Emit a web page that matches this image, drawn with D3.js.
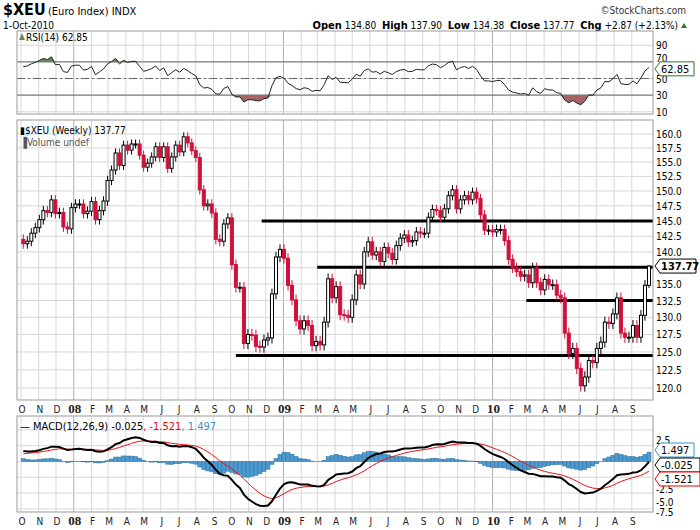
<!DOCTYPE html>
<html>
<head>
<meta charset="utf-8">
<script src="https://cdn.jsdelivr.net/npm/d3@7"></script>
<style>
body { margin: 0; background: #fff; }
text { font-family: "DejaVu Sans Condensed", "DejaVu Sans", sans-serif; }
</style>
</head>
<body>
<script>
const width = 700, height = 530;
const left = 17, right = 653;

// weekly closes, 5-Oct-2007 .. 1-Oct-2010
const closes = [
  141.3, 141.7, 143, 143.9, 145.2, 146.7, 146.4, 148.5, 146.2, 146.4, 144, 143.7, 147.2, 147.8, 147.8,
  146.2, 146.6, 148.2, 145.2, 146.7, 148.3, 151.8, 153.6, 156.6, 154.4, 158, 157.1, 158.2, 158.2, 156.2,
  154.1, 154.8, 155.9, 157.7, 155.8, 157.7, 153.9, 155.9, 158, 156.8, 159.5, 158.4, 157, 155.8, 150.2,
  147.5, 147.8, 146.3, 142, 141.7, 144.5, 145.5, 138, 134.5, 134.5, 126.2, 127.5, 127.4, 125.8, 125.7,
  126.7, 127, 133.5, 139.2, 140.4, 139, 134.8, 132.6, 129.5, 128.3, 129.5, 128.8, 125.9, 126.5, 126,
  129.3, 135.8, 132.9, 134.6,
  130.4, 130.3, 130, 132.6, 136.4, 135, 140, 141.6, 139.5, 140, 138.5, 140.7, 139.8, 138.8, 141, 142.2,
  142.7, 141.6, 141.8, 143.2, 143, 143, 145.6, 146.9, 146.7, 145.6, 147, 149.2, 150.2, 147, 148.5, 149.2,
  148.5, 149.8, 148.7, 146, 143.5, 143.5, 143.2,
  143.6, 143.6, 141.8, 138.8, 137.5, 136.9, 136.2, 136.4, 135.2, 137.5, 135.2, 134.1, 135.7, 134.9, 134.9,
  133.3, 132.9, 127.7, 124.8, 125.5, 122.7, 120.3, 121.5, 123.8, 123.5, 125.5, 126.4, 129.3, 129.1, 130.5,
  132.9, 127.7, 127.1, 127.1, 128.8, 127.1, 130.3, 134.8, 137.77
];
const firstOpen = 142.0;
const priceTicks = [120, 122.5, 125, 127.5, 130, 132.5, 135, 137.5, 140, 142.5, 145, 147.5, 150, 152.5, 155, 157.5, 160];
const rsiTicks = [10, 30, 50, 70, 90];
const macdTicks = [2.5, -2.5, -5, -7.5];
// support / resistance lines: [level, start date]
const levels = [[145, "2008-11-24"], [137.6, "2009-03-01"], [132.5, "2010-03-01"], [124.5, "2008-10-10"]];
const monthNames = "JFMAMJJASOND";

const lastDate = new Date(2010, 9, 1);
const n = closes.length;
const weeks = closes.map((c, i) => {
  const d = d3.timeWeek.offset(lastDate, -(n - 1 - i));
  const o = i === 0 ? firstOpen : closes[i - 1];
  return { date: d, open: o, close: c, high: Math.max(o, c) + 0.8, low: Math.min(o, c) - 0.8, up: c >= o };
});
weeks[n - 1].open = 134.80; weeks[n - 1].high = 137.90; weeks[n - 1].low = 134.38;

// RSI(14), Wilder smoothing
let ag = 0.9, al = 0.5;
const rsi = weeks.map((w, i) => {
  const ch = i === 0 ? 0 : w.close - weeks[i - 1].close;
  ag = (ag * 13 + Math.max(ch, 0)) / 14;
  al = (al * 13 + Math.max(-ch, 0)) / 14;
  return 100 - 100 / (1 + ag / al);
});
// MACD(12,26,9)
let e12 = closes[0], e26 = closes[0] - 1.8, sig = 1.1;
const macd = weeks.map(w => {
  e12 += (w.close - e12) * 2 / 13;
  e26 += (w.close - e26) * 2 / 27;
  const m = e12 - e26;
  sig += (m - sig) * 2 / 10;
  return { m: m, s: sig, h: m - sig };
});

const svg = d3.select("body").append("svg").attr("width", width).attr("height", height);

const x = d3.scaleTime().domain([new Date(2007, 8, 24), new Date(2010, 9, 8)]).range([left, right]);
const months = d3.timeMonth.range(new Date(2007, 9, 1), new Date(2010, 8, 2));

function panel(top, bottom) {
  const g = svg.append("g");
  g.selectAll("line.v").data(months).enter().append("line")
    .attr("x1", d => x(d)).attr("x2", d => x(d)).attr("y1", top).attr("y2", bottom)
    .attr("stroke", d => d.getMonth() === 0 ? "#b0b0b0" : "#d8d8d8");
  return g;
}
function frame(top, bottom) {
  svg.append("rect").attr("x", left).attr("y", top).attr("width", right - left).attr("height", bottom - top)
    .attr("fill", "none").attr("stroke", "#999");
}
function monthLabels(yy) {
  svg.append("g").selectAll("text").data(months).enter().append("text")
    .attr("x", d => x(d) + 1).attr("y", yy).attr("text-anchor", "middle")
    .attr("font-size", d => d.getMonth() === 0 ? 13 : 10)
    .attr("font-weight", d => d.getMonth() === 0 ? "bold" : "normal")
    .style("font-family", d => d.getMonth() === 0 ? "'Liberation Serif', serif" : null)
    .attr("fill", "#222")
    .text(d => d.getMonth() === 0 ? String(d.getFullYear()).slice(2) : monthNames[d.getMonth()]);
}
function valueBox(yy, txt, color, w) {
  svg.append("path").attr("d", `M${right + 2},${yy} l5,-7 h${w} v14 h-${w} z`)
    .attr("fill", "#fff").attr("stroke", color);
  svg.append("text").attr("x", right + 8).attr("y", yy + 4).attr("font-size", 11).attr("fill", "#000").text(txt);
}

// header
svg.append("text").attr("x", 3).attr("y", 15).attr("font-size", 16).attr("font-weight", "bold").text("$XEU");
svg.append("text").attr("x", 48).attr("y", 15).attr("font-size", 11).text("(Euro Index) INDX");
svg.append("text").attr("x", 686).attr("y", 14).attr("text-anchor", "end").attr("font-size", 10).attr("fill", "#333").text("©StockCharts.com");
svg.append("text").attr("x", 3).attr("y", 29).attr("font-size", 10).text("1-Oct-2010");
const hdr = svg.append("text").attr("x", 678).attr("y", 29).attr("text-anchor", "end").attr("font-size", 11);
[["Open", " 134.80  "], ["High", " 137.90  "], ["Low", " 134.38  "], ["Close", " 137.77  "], ["Chg", " +2.87 (+2.13%)"]].forEach(p => {
  hdr.append("tspan").attr("font-weight", "bold").text(p[0]);
  hdr.append("tspan").attr("font-size", 10).style("white-space", "pre").text(p[1]);
});
svg.append("path").attr("d", "M681,28 l3,-5 l3,5 z").attr("fill", "#2a7a2a");

// RSI panel
const rTop = 31, rBot = 114;
const yr = d3.scaleLinear().domain([0, 100]).range([120, 37]);
const gr = panel(rTop, rBot);
gr.selectAll("line.h").data(rsiTicks).enter().append("line")
  .attr("x1", left).attr("x2", right).attr("y1", d => yr(d)).attr("y2", d => yr(d)).attr("stroke", "#d8d8d8");
[70, 30].forEach(v => gr.append("line").attr("x1", left).attr("x2", right).attr("y1", yr(v)).attr("y2", yr(v)).attr("stroke", "#666"));
gr.append("line").attr("x1", left).attr("x2", right).attr("y1", yr(50)).attr("y2", yr(50))
  .attr("stroke", "#666").attr("stroke-dasharray", "8,3,2,3");
gr.append("path").datum(rsi)
  .attr("d", d3.area().x((d, i) => x(weeks[i].date)).y0(yr(70)).y1(d => yr(Math.max(d, 70))))
  .attr("fill", "#5e8c5e");
gr.append("path").datum(rsi)
  .attr("d", d3.area().x((d, i) => x(weeks[i].date)).y0(yr(30)).y1(d => yr(Math.min(d, 30))))
  .attr("fill", "#a86464");
gr.append("path").datum(rsi)
  .attr("d", d3.line().x((d, i) => x(weeks[i].date)).y(d => yr(d)))
  .attr("fill", "none").attr("stroke", "#222");
frame(rTop, rBot);
// 70 sits just above the value box, as in the original
const rsiNudge = { "70": -4 };
svg.append("g").selectAll("text").data(rsiTicks).enter().append("text")
  .attr("x", 656).attr("y", d => yr(d) + 4 + (rsiNudge[String(d)] || 0)).attr("font-size", 10).text(d => d);
svg.append("path").attr("d", "M19,40 l3,-7 l3,7 z").attr("fill", "#5e8c5e");
svg.append("text").attr("x", 26).attr("y", 41).attr("font-size", 10).text("RSI(14) 62.85");
valueBox(yr(62.85) + 1, "62.85", "#2a7a2a", 34);

// price panel
const pTop = 120, pBot = 400;
const y = d3.scaleLog().domain([120, 160]).range([388, 134]);
const gp = panel(pTop, pBot);
gp.selectAll("line.h").data(priceTicks).enter().append("line")
  .attr("x1", left).attr("x2", right).attr("y1", d => y(d)).attr("y2", d => y(d)).attr("stroke", "#d8d8d8");
gp.selectAll("line.lv").data(levels).enter().append("line")
  .attr("x1", d => x(new Date(d[1]))).attr("x2", right).attr("y1", d => y(d[0])).attr("y2", d => y(d[0]))
  .attr("stroke", "#000").attr("stroke-width", 3);
const cw = 3;
const c = gp.selectAll("g.c").data(weeks).enter().append("g");
c.append("line").attr("x1", d => x(d.date)).attr("x2", d => x(d.date))
  .attr("y1", d => y(d.high)).attr("y2", d => y(d.low))
  .attr("stroke", d => d.up ? "#000" : "#d0103a");
c.append("rect").attr("x", d => x(d.date) - cw / 2)
  .attr("y", d => y(Math.max(d.open, d.close)))
  .attr("width", cw).attr("height", d => Math.max(1, Math.abs(y(d.open) - y(d.close))))
  .attr("fill", d => d.up ? "#fff" : "#d0103a").attr("stroke", d => d.up ? "#000" : "#d0103a");
frame(pTop, pBot);
svg.append("g").selectAll("text").data(priceTicks.filter(d => Math.abs(y(d) - y(137.77)) > 8)).enter().append("text")
  .attr("x", 656).attr("y", d => y(d) + 4).attr("font-size", 10).text(d => d.toFixed(1));
svg.append("text").attr("x", 20).attr("y", 134).attr("font-size", 10).text("\u25AE$XEU (Weekly) 137.77");
svg.append("text").attr("x", 20).attr("y", 146).attr("font-size", 10).attr("fill", "#555").text("\u2590Volume undef");
svg.append("path").attr("d", `M${right + 2},${y(137.77)} l5,-7 h36 v14 h-36 z`).attr("fill", "#fff").attr("stroke", "#000");
svg.append("text").attr("x", right + 8).attr("y", y(137.77) + 4).attr("font-size", 11).attr("font-weight", "bold").text("137.77");
monthLabels(413);

// MACD panel
const mTop = 416, mBot = 512;
const ym = d3.scaleLinear().domain([-8, 7.2]).range([mBot, mTop]);
const gm = panel(mTop, mBot);
gm.selectAll("line.h").data([5, 2.5, 0, -2.5, -5, -7.5]).enter().append("line")
  .attr("x1", left).attr("x2", right).attr("y1", d => ym(d)).attr("y2", d => ym(d)).attr("stroke", "#d8d8d8");
gm.selectAll("rect").data(macd).enter().append("rect")
  .attr("x", (d, i) => x(weeks[i].date) - 2).attr("width", 4)
  .attr("y", d => ym(Math.max(0, d.h))).attr("height", d => Math.abs(ym(d.h) - ym(0)))
  .attr("fill", "#4c9ad0").attr("stroke", "#2d6f9e").attr("stroke-width", 0.5);
gm.append("path").datum(macd).attr("d", d3.line().x((d, i) => x(weeks[i].date)).y(d => ym(d.s)))
  .attr("fill", "none").attr("stroke", "#f01010");
gm.append("path").datum(macd).attr("d", d3.line().x((d, i) => x(weeks[i].date)).y(d => ym(d.m)))
  .attr("fill", "none").attr("stroke", "#000").attr("stroke-width", 2);
frame(mTop, mBot);
// tick labels nudged clear of the value boxes, as the original does
const macdNudge = { "2.5": -6, "-2.5": 12, "-5": 9, "-7.5": 3 };
svg.append("g").selectAll("text").data(macdTicks).enter().append("text")
  .attr("x", 656).attr("y", d => ym(d) + 4 + macdNudge[String(d)]).attr("font-size", 10).text(d => d.toFixed(1));
const ml = svg.append("text").attr("x", 20).attr("y", 430).attr("font-size", 11);
ml.append("tspan").text("\u2014 MACD(12,26,9) -0.025");
ml.append("tspan").attr("fill", "#e00").text(", -1.521");
ml.append("tspan").attr("fill", "#3a96c8").text(", 1.497");
valueBox(450, "1.497", "#3a96c8", 34);
valueBox(465, "-0.025", "#000", 40);
valueBox(479, "-1.521", "#e00", 40);
monthLabels(525);
</script>
</body>
</html>
